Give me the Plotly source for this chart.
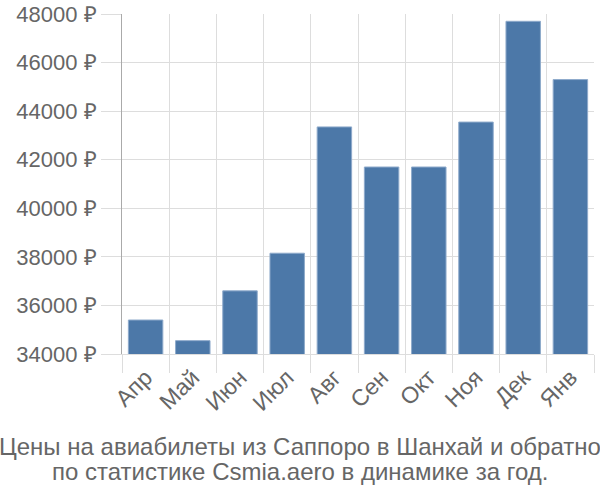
import plotly.graph_objects as go

months = ["Апр", "Май", "Июн", "Июл", "Авг", "Сен", "Окт", "Ноя", "Дек", "Янв"]
prices = [35400, 34550, 36600, 38150, 43350, 41700, 41700, 43550, 47700, 45300]
y_ticks = [34000, 36000, 38000, 40000, 42000, 44000, 46000, 48000]
title_lines = [
    "Цены на авиабилеты из Саппоро в Шанхай и обратно",
    "по статистике Csmia.aero в динамике за год.",
]

font_family = "Liberation Sans, Arial, sans-serif"

fig = go.Figure(
    go.Bar(
        x=months,
        y=prices,
        marker=dict(color="#4c78a8", line=dict(color="#8eaacb", width=1)),
        hoverinfo="x+y",
    )
)

title_y = [-0.2735, -0.347]
annotations = [
    dict(
        text=line,
        xref="paper",
        yref="paper",
        x=0.377,
        y=yy,
        xanchor="center",
        yanchor="middle",
        showarrow=False,
        font=dict(family=font_family, size=24, color="#666666"),
    )
    for line, yy in zip(title_lines, title_y)
]

fig.update_layout(
    width=600,
    height=500,
    margin=dict(l=122, r=6, t=14, b=146, autoexpand=False),
    paper_bgcolor="white",
    plot_bgcolor="white",
    bargap=0.27,
    showlegend=False,
    font=dict(family=font_family, size=20, color="#666666"),
    annotations=annotations,
)

fig.update_xaxes(
    type="category",
    tickson="boundaries",
    showgrid=True,
    gridcolor="#dddddd",
    gridwidth=1,
    ticks="outside",
    ticklen=18,
    tickcolor="#dddddd",
    tickangle=-45,
    showline=True,
    linecolor="#dddddd",
    automargin=False,
    tickfont=dict(size=23, color="#666666"),
)

fig.update_yaxes(
    range=[34000, 48000],
    tickvals=y_ticks,
    ticktext=[f"{v} ₽" for v in y_ticks],
    showgrid=True,
    gridcolor="#dddddd",
    gridwidth=1,
    ticks="outside",
    ticklen=20,
    tickcolor="#dddddd",
    showline=True,
    linecolor="#aaaaaa",
    linewidth=1,
    zeroline=False,
    automargin=False,
    tickfont=dict(size=22, color="#666666"),
)

fig.write_html(
    "out.html",
    config={"displayModeBar": False},
    post_script="document.body.style.margin='0';document.body.style.padding='0';",
)
